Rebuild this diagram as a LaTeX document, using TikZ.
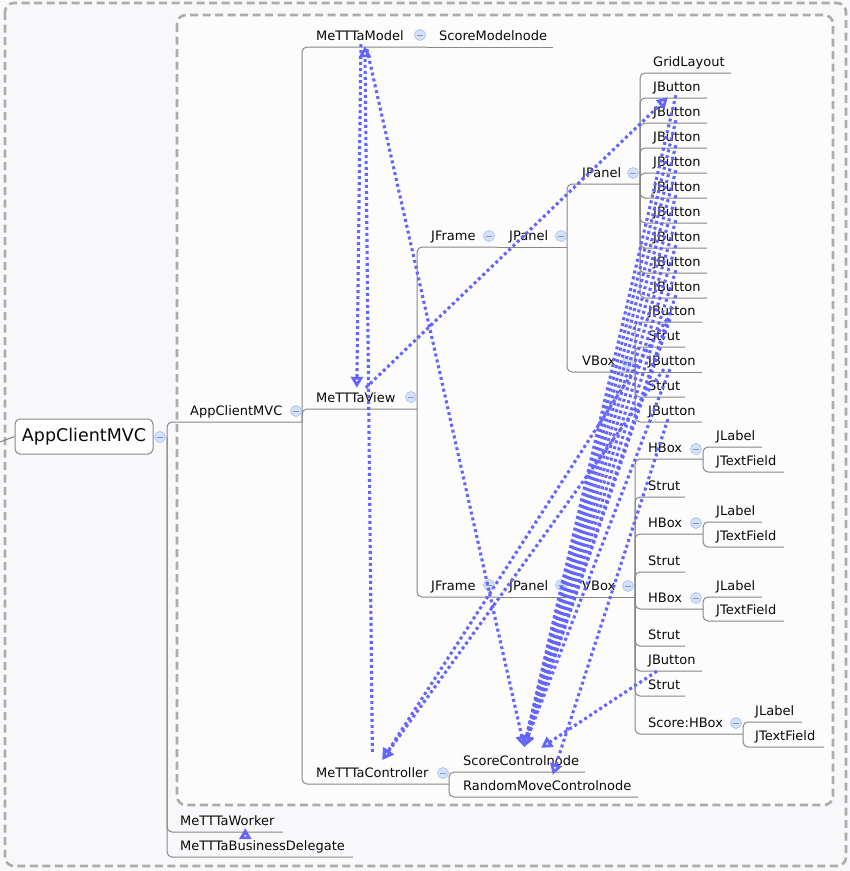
\documentclass[tikz,border=0pt]{standalone}
\usepackage{fontspec}
\setmainfont{DejaVu Sans}
\usetikzlibrary{arrows.meta}
\definecolor{bg}{RGB}{248,248,251}
\definecolor{innerbg}{RGB}{252,252,253}
\definecolor{framegray}{RGB}{172,172,172}
\definecolor{linegray}{RGB}{135,135,135}
\definecolor{relblue}{RGB}{100,100,255}
\definecolor{collfill}{RGB}{212,225,248}
\definecolor{colldraw}{RGB}{172,196,236}
\definecolor{collminus}{RGB}{125,152,210}
\definecolor{txt}{RGB}{10,10,10}
\newcommand\mmnode[5]{\node[tn] (#1) at ({#3-1},{#4-7}) {#2}; \coordinate (#1-e) at (#5,#4);}
\begin{document}
\begin{tikzpicture}[x=1pt,y=-1pt,
 tn/.style={anchor=base west, inner sep=1pt, text height=10pt, text depth=3pt, font=\fontsize{13}{15}\selectfont, text=txt},
 tree/.style={draw=linegray, line width=1pt, rounded corners=5pt},
 coll/.style={circle, draw=colldraw, fill=collfill, line width=0.7pt, minimum size=11pt, inner sep=0pt,
   path picture={\draw[draw=collminus, line width=0.9pt] ([xshift=-2.6pt]path picture bounding box.center) -- ([xshift=2.6pt]path picture bounding box.center);}},
 rel/.style={draw=relblue, line width=3.1pt, dash pattern=on 3pt off 3pt, -{Triangle[open,length=11pt,width=12pt,line width=2.8pt]}},
 frame/.style={draw=framegray, line width=2.6pt, dash pattern=on 8pt off 4.5pt, rounded corners=9pt}]
\useasboundingbox (0,0) rectangle (850,871);
\fill[bg] (0,0) rectangle (850,871);
\draw[frame] (5,3) rectangle (846,866);
\draw[frame, fill=innerbg] (177,15) rectangle (833,805);

% root
\node[draw=linegray, line width=1pt, rounded corners=5pt, fill=white, minimum width=138pt, minimum height=35pt, inner sep=0pt, font=\fontsize{17.5}{20}\selectfont, text=txt] (root) at (84,436.5) {AppClientMVC};
\coordinate (stub) at (0,442);
\draw[tree, rounded corners=0pt] (stub) -- (root.west);
\coordinate (root-e) at (167,437);

% level 1
\mmnode{acm}{AppClientMVC}{190}{422}{302}
\mmnode{worker}{MeTTTaWorker}{180}{832}{283}
\mmnode{bd}{MeTTTaBusinessDelegate}{180}{857}{353}
% level 2
\mmnode{model}{MeTTTaModel}{316}{47}{427}
\mmnode{view}{MeTTTaView}{316}{409}{417}
\mmnode{ctrl}{MeTTTaController}{316}{784}{449}
\mmnode{smn}{ScoreModelnode}{439}{47}{553}
% view subtree
\mmnode{jf1}{JFrame}{431}{247}{497}
\mmnode{jp1}{JPanel}{509}{247}{567}
\mmnode{jf2}{JFrame}{431}{597}{497}
\mmnode{jp2}{JPanel}{509}{597}{569}
\mmnode{vb2}{VBox}{582}{597}{635}
\mmnode{jp1a}{JPanel}{582}{184}{640}
\mmnode{vb1}{VBox}{582}{372}{635}
\mmnode{gl}{GridLayout}{653}{73}{731}
\foreach \i in {1,...,9}{
  \pgfmathsetmacro\u{73+25*\i}
  \mmnode{jb\i}{JButton}{653}{\u}{707}
}
\mmnode{vbAb}{JButton}{648}{322}{702}
\mmnode{vbAs}{Strut}{648}{347}{685}
\mmnode{vbBb}{JButton}{648}{372}{702}
\mmnode{vbBs}{Strut}{648}{397}{685}
\mmnode{vbCb}{JButton}{648}{422}{702}
% vbox 2 children
\mmnode{hb1}{HBox}{648}{459}{703}
\mmnode{st1}{Strut}{648}{497}{685}
\mmnode{hb2}{HBox}{648}{534}{703}
\mmnode{st2}{Strut}{648}{572}{685}
\mmnode{hb3}{HBox}{648}{609}{703}
\mmnode{st3}{Strut}{648}{646}{685}
\mmnode{vb2b}{JButton}{648}{671}{702}
\mmnode{st4}{Strut}{648}{696}{685}
\mmnode{shb}{Score:HBox}{648}{734}{743}
\mmnode{lb1}{JLabel}{716}{447}{762}
\mmnode{tf1}{JTextField}{716}{472}{784}
\mmnode{lb2}{JLabel}{716}{522}{762}
\mmnode{tf2}{JTextField}{716}{547}{784}
\mmnode{lb3}{JLabel}{716}{597}{762}
\mmnode{tf3}{JTextField}{716}{621}{784}
\mmnode{lb4}{JLabel}{755}{722}{802}
\mmnode{tf4}{JTextField}{755}{747}{824}
% controller children
\mmnode{scn}{ScoreControlnode}{463}{772}{585}
\mmnode{rmc}{RandomMoveControlnode}{463}{797}{638}

% tree connectors
\foreach \c in {acm,worker,bd} \draw[tree] (root-e) |- (\c-e);
\foreach \c in {model,view,ctrl} \draw[tree] (acm-e) |- (\c-e);
\draw[tree] (model-e) -- (smn-e);
\foreach \c in {jf1,jf2} \draw[tree] (view-e) |- (\c-e);
\draw[tree] (jf1-e) -- (jp1-e);
\draw[tree] (jf2-e) -- (jp2-e);
\draw[tree] (jp2-e) -- (vb2-e);
\foreach \c in {jp1a,vb1} \draw[tree] (jp1-e) |- (\c-e);
\foreach \c in {gl,jb1,jb2,jb3,jb4,jb5,jb6,jb7,jb8,jb9} \draw[tree] (jp1a-e) |- (\c-e);
\foreach \c in {vbAb,vbAs,vbBs,vbCb} \draw[tree] (vb1-e) |- (\c-e);
\draw[tree] (vb1-e) -- (vbBb-e);
\foreach \c in {hb1,st1,hb2,st2,hb3,st3,vb2b,st4,shb} \draw[tree] (vb2-e) |- (\c-e);
\draw[tree] (hb1-e) |- (lb1-e); \draw[tree] (hb1-e) |- (tf1-e);
\draw[tree] (hb2-e) |- (lb2-e); \draw[tree] (hb2-e) |- (tf2-e);
\draw[tree] (hb3-e) |- (lb3-e); \draw[tree] (hb3-e) |- (tf3-e);
\draw[tree] (shb-e) |- (lb4-e); \draw[tree] (shb-e) |- (tf4-e);
\foreach \c in {scn,rmc} \draw[tree] (ctrl-e) |- (\c-e);

% collapse markers
\node[coll] (c-root) at (160,437) {};
\node[coll] (c-acm) at (296,411) {};
\node[coll] (c-model) at (420,35) {};
\node[coll] (c-view) at (411,397) {};
\node[coll] (c-ctrl) at (443,773) {};
\node[coll] (c-jf1) at (489,236) {};
\node[coll] (c-jp1) at (561,236) {};
\node[coll] (c-jf2) at (489,585) {};
\node[coll] (c-jp2) at (561,585) {};
\node[coll] (c-vb2) at (628,586) {};
\node[coll] (c-jp1a) at (633,173) {};
\node[coll] (c-vb1) at (628,362) {};
\node[coll] (c-hb1) at (696,449) {};
\node[coll] (c-hb2) at (696,523) {};
\node[coll] (c-hb3) at (696,598) {};
\node[coll] (c-shb) at (736,723) {};

% relationships
\draw[rel] ([xshift=1pt]model.south) -- ([xshift=1pt,yshift=3pt]view.north);
\draw[rel] ([yshift=14pt]ctrl.north) -- ([xshift=5pt,yshift=-2pt]model.south);
\draw[rel] ([xshift=7pt,yshift=-5pt]model.south) -- ([xshift=3pt,yshift=7pt]scn.north);
\draw[rel] ([xshift=10pt,yshift=3pt]view.north) -- ([xshift=-9pt,yshift=-2pt]jb1.south);
\foreach \i in {1,...,9} \draw[rel] ([xshift=-1pt]jb\i.south) -- ([xshift=3pt,yshift=7pt]scn.north);
\draw[rel] ([xshift=-2pt]vbAb.south) -- ([xshift=3pt,yshift=7pt]scn.north);
\draw[rel] ([xshift=-2pt]vbBb.south) -- ([xshift=3pt,yshift=7pt]scn.north);
\draw[rel] ([xshift=-5pt]vbAb.south) -- ([xshift=10pt,yshift=6pt]ctrl.north);
\draw[rel] ([xshift=-8pt]vbBb.south) -- ([xshift=10pt,yshift=6pt]ctrl.north);
\draw[rel] ([xshift=-4pt]vbCb.south) -- ([xshift=5.5pt,yshift=4pt]rmc.north);
\draw[rel] ([xshift=-15pt,yshift=-3pt]vb2b.south) -- ([xshift=20pt,yshift=6pt]scn.north);
\draw[rel] ([xshift=18pt,yshift=-3pt]worker.south) -- ([xshift=18pt,yshift=1pt]worker.south);
\end{tikzpicture}
\end{document}
